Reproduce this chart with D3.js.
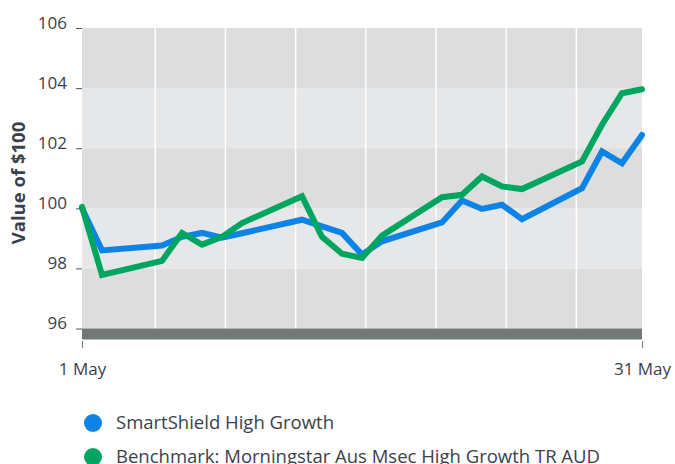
<!DOCTYPE html>
<html>
<head>
<meta charset="utf-8">
<script src="https://cdn.jsdelivr.net/npm/d3@7"></script>
<style>
  body { margin: 0; background: #fff; }
  svg text { font-family: "Open Sans", Roboto, sans-serif; fill: #3b414c; }
</style>
</head>
<body>
<div class="d3Chart"></div>
<script>
// positions of the trading days along the month (in slot units)
var slots = [0, 1, 4, 5, 6, 7, 8, 11, 12, 13, 14, 15, 18, 19, 20, 21, 22, 25, 26, 27, 28];
var fundValues = [100.0, 98.6, 98.76, 99.05, 99.18, 99.02, 99.17, 99.62, 99.4, 99.18, 98.46,
  98.9, 99.53, 100.26, 99.98, 100.12, 99.64, 100.67, 101.89, 101.5, 102.44];
var benchValues = [100.05, 97.78, 98.25, 99.18, 98.79, 99.05, 99.51, 100.4, 99.05, 98.49, 98.35,
  99.09, 100.37, 100.45, 101.06, 100.73, 100.64, 101.56, 102.78, 103.83, 103.96];
var seriesNames = ["SmartShield High Growth", "Benchmark: Morningstar Aus Msec High Growth TR AUD"];
var seriesColors = ["#0d83e6", "#00a660"];
var yTicks = [96, 98, 100, 102, 104, 106];
var xTickLabels = ["1 May", "31 May"];

var width = 675;
var height = 464;
var plotLeft = 82, plotRight = 642, plotTop = 28;

var svg = d3.select(".d3Chart").append("svg")
  .attr("width", width)
  .attr("height", height);

var x = d3.scaleLinear().domain([0, 28]).range([plotLeft, plotRight]);
var y = d3.scaleLinear().domain([96, 106]).range([328.5, plotTop]);

// alternating bands
var bands = d3.range(96, 106, 2);
svg.append("g").selectAll("rect").data(bands).enter().append("rect")
  .attr("x", plotLeft)
  .attr("width", plotRight - plotLeft)
  .attr("y", d => y(d + 2))
  .attr("height", d => y(d) - y(d + 2))
  .attr("fill", d => ((106 - d - 2) / 2) % 2 === 0 ? "#dcdddc" : "#e6e7e9");

// vertical grid lines (weekly)
var grid = d3.range(0, 7).map(i => 3.66 + i * 3.51);
svg.append("g").selectAll("line").data(grid).enter().append("line")
  .attr("x1", d => x(d)).attr("x2", d => x(d))
  .attr("y1", plotTop).attr("y2", y(96))
  .attr("stroke", "#fff").attr("stroke-width", 1.5);

// base bar
svg.append("rect")
  .attr("x", plotLeft).attr("width", plotRight - plotLeft)
  .attr("y", y(96)).attr("height", 11)
  .attr("fill", "#737879");

// y axis
var yAxis = d3.axisLeft(y).tickValues(yTicks).tickSize(6).tickPadding(9);
var yg = svg.append("g").attr("transform", `translate(${plotLeft},0)`).call(yAxis);
yg.select(".domain").remove();
yg.selectAll(".tick line").attr("stroke", "#555").attr("stroke-width", 1);
yg.selectAll(".tick text")
  .attr("font-size", 17)
  .attr("dy", "-0.0em")
  .style("font-family", "'Open Sans', sans-serif")
  .attr("fill", "#3b414c");

svg.append("text")
  .attr("transform", "translate(25,183) rotate(-90)")
  .attr("text-anchor", "middle")
  .attr("font-size", 18.5)
  .attr("font-weight", "bold")
  .text("Value of $100");

// x axis
var xAxis = d3.axisBottom(x).tickValues([0, 28]).tickSize(7).tickPadding(15)
  .tickFormat((d, i) => xTickLabels[i]);
var xg = svg.append("g").attr("transform", "translate(0,341)").call(xAxis);
xg.select(".domain").remove();
xg.selectAll(".tick line").attr("stroke", "#777");
xg.selectAll(".tick text")
  .attr("font-size", 17)
  .style("font-family", "'Open Sans', sans-serif")
  .attr("fill", "#3b414c");

// lines
var line = d3.line().x((d, i) => x(slots[i])).y(d => y(d));
[fundValues, benchValues].forEach(function (vals, k) {
  svg.append("path")
    .datum(vals)
    .attr("d", line)
    .attr("fill", "none")
    .attr("stroke", seriesColors[k])
    .attr("stroke-width", 6)
    .attr("stroke-linejoin", "miter")
    .attr("stroke-linecap", "round");
});

// legend
var legend = svg.append("g").selectAll("g").data(seriesNames).enter().append("g")
  .attr("transform", (d, i) => `translate(93,${423 + i * 34})`);
legend.append("circle").attr("r", 9).attr("fill", (d, i) => seriesColors[i]);
legend.append("text")
  .attr("x", 23).attr("dy", "0.35em")
  .attr("font-size", 18.5)
  .text(d => d);
</script>
</body>
</html>
